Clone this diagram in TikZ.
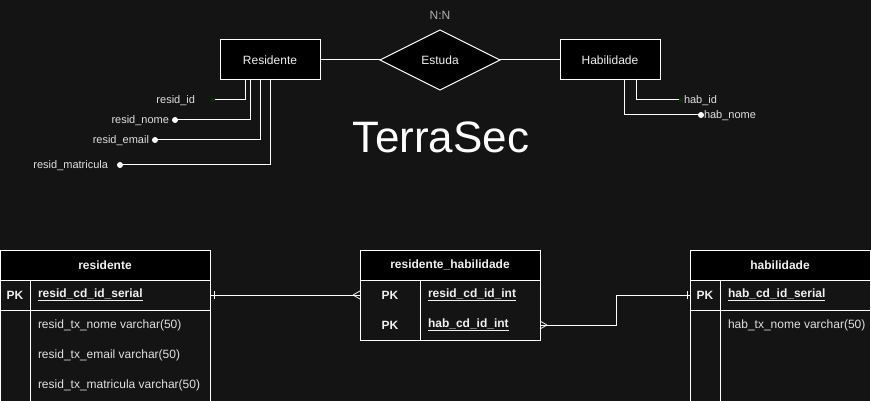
\documentclass[tikz,border=0pt]{standalone}
\usepackage{fontspec}
\setmainfont{Liberation Sans}
\usetikzlibrary{shapes.geometric}
\definecolor{bg}{HTML}{141414}
\definecolor{txt}{HTML}{F0F0F0}
\definecolor{lbl}{HTML}{E0E0E0}
\definecolor{nn}{HTML}{B0B0B0}
\definecolor{dgreen}{HTML}{003300}
\begin{document}
\begin{tikzpicture}[x=1pt,y=-1pt,line width=1pt,
  every node/.style={outer sep=0pt,inner sep=0pt},
  ent/.style={draw=white,fill=black,minimum width=100pt,minimum height=40pt,text=txt,font=\fontsize{12}{14}\selectfont},
  rel/.style={draw=white,fill=black,diamond,aspect=2,minimum width=120pt,minimum height=60pt,text=txt,font=\fontsize{12}{14}\selectfont},
  attr/.style={text=lbl,font=\fontsize{11}{13}\selectfont},
  wdot/.style={circle,fill=white,minimum size=6pt},
  gdot/.style={rectangle,fill=dgreen,minimum size=4pt},
  hdr/.style={draw=white,fill=black,anchor=north west,minimum height=30pt,text=txt,font=\bfseries\fontsize{12}{14}\selectfont},
  tbody/.style={draw=white,anchor=north west},
  trow/.style={anchor=north west,minimum height=30pt},
  pk/.style={text=txt,font=\bfseries\fontsize{12}{14}\selectfont},
  fld/.style={anchor=west,text=lbl,font=\fontsize{12}{14}\selectfont},
  pkf/.style={anchor=west,text=txt,font=\bfseries\fontsize{12}{14}\selectfont},
  conn/.style={draw=white,line width=1pt}
]
\useasboundingbox (0,0) rectangle (871,401);
\fill[bg] (0,0) rectangle (871,401);
\clip (0,0) rectangle (871,401);

% ---- conceptual model ----
\node[ent] (res) at (270,60) {Residente};
\node[ent] (hab) at (610,60) {Habilidade};
\node[rel] (est) at (440,60) {Estuda};
\node[text=nn,font=\fontsize{12}{14}\selectfont] (nn) at (440,15) {N:N};
\draw[conn] (res.east) -- (est.west);
\draw[conn] (est.east) -- (hab.west);

\node[text=white,font=\fontsize{44}{50}\selectfont] (title) at (441,137) {TerraSec};

% residente attributes
\node[wdot] (d2) at (175,120) {};
\node[wdot] (d3) at (155,140) {};
\node[wdot] (d4) at (120,165) {};
\node[attr,anchor=east] (a1) at (195,101) {resid\_id};
\node[attr,anchor=east] (a2) at (169,121) {resid\_nome};
\node[attr,anchor=east] (a3) at (149,141) {resid\_email};
\node[attr,anchor=east] (a4) at (108,166) {resid\_matricula};
\draw[conn] ([xshift=25pt]res.south west) |- (213,100) coordinate (d1c);
\draw[conn] ([xshift=30pt]res.south west) |- (d2.center);
\draw[conn] ([xshift=40pt]res.south west) |- (d3.center);
\draw[conn] ([xshift=50pt]res.south west) |- (d4.center);
\node[gdot] (d1) at (d1c) {};

% habilidade attributes
\node[wdot] (h2) at (701,115) {};
\node[attr,anchor=west] (b1) at (684,101) {hab\_id};
\node[attr,anchor=west] (b2) at (704,116) {hab\_nome};
\draw[conn] ([xshift=64pt]hab.south west) |- (h2.center);
\draw[conn] ([xshift=76pt]hab.south west) |- (681,100) coordinate (h1c);
\node[gdot] (h1) at (h1c) {};

% ---- tables ----
% residente
\node[hdr,minimum width=210pt] (t1h) at (0,250) {residente};
\node[tbody,minimum width=210pt,minimum height=150pt] (t1b) at (0,280) {};
\draw[conn] (30,280) -- (30,430);
\draw[conn] (0,310) -- (210,310);
\node[trow,minimum width=210pt] (t1r1) at (0,280) {};
\node[pk] (t1pk) at (15,295) {PK};
\node[pkf] (t1f1) at (38,295) {\underline{resid\_cd\_id\_serial}};
\node[fld] (t1f2) at (38,325) {resid\_tx\_nome varchar(50)};
\node[fld] (t1f3) at (38,355) {resid\_tx\_email varchar(50)};
\node[fld] (t1f4) at (38,385) {resid\_tx\_matricula varchar(50)};

% residente_habilidade
\node[hdr,minimum width=180pt] (t2h) at (360,250) {residente\_habilidade};
\node[tbody,minimum width=180pt,minimum height=60pt] (t2b) at (360,280) {};
\draw[conn] (420,280) -- (420,340);
\node[trow,minimum width=180pt] (t2r1) at (360,280) {};
\node[trow,minimum width=180pt] (t2r2) at (360,310) {};
\node[pk] (t2pk1) at (390,295) {PK};
\node[pk] (t2pk2) at (390,325) {PK};
\node[pkf] (t2f1) at (428,295) {\underline{resid\_cd\_id\_int}};
\node[pkf] (t2f2) at (428,325) {\underline{hab\_cd\_id\_int}};

% habilidade
\node[hdr,minimum width=180pt] (t3h) at (690,250) {habilidade};
\node[tbody,minimum width=180pt,minimum height=150pt] (t3b) at (690,280) {};
\draw[conn] (720,280) -- (720,430);
\draw[conn] (690,310) -- (870,310);
\node[trow,minimum width=180pt] (t3r1) at (690,280) {};
\node[pk] (t3pk) at (705,295) {PK};
\node[pkf] (t3f1) at (728,295) {\underline{hab\_cd\_id\_serial}};
\node[fld] (t3f2) at (728,325) {hab\_tx\_nome varchar(50)};

% ---- relationships ----
\draw[conn] (t1r1.east) -- (t2r1.west);
\draw[conn] ([shift={(4,-4)}]t1r1.east) -- ([shift={(4,4)}]t1r1.east);
\draw[conn,line width=0.8pt] ([xshift=-7pt]t2r1.west) -- ([yshift=4pt]t2r1.west);
\draw[conn,line width=0.8pt] ([xshift=-7pt]t2r1.west) -- ([yshift=-4pt]t2r1.west);

\draw[conn] (t2r2.east) -- ++(76,0) |- (t3r1.west);
\draw[conn] ([shift={(-3,-4)}]t3r1.west) -- ([shift={(-3,4)}]t3r1.west);
\draw[conn,line width=0.8pt] ([xshift=7pt]t2r2.east) -- ([yshift=4pt]t2r2.east);
\draw[conn,line width=0.8pt] ([xshift=7pt]t2r2.east) -- ([yshift=-4pt]t2r2.east);
\end{tikzpicture}
\end{document}
